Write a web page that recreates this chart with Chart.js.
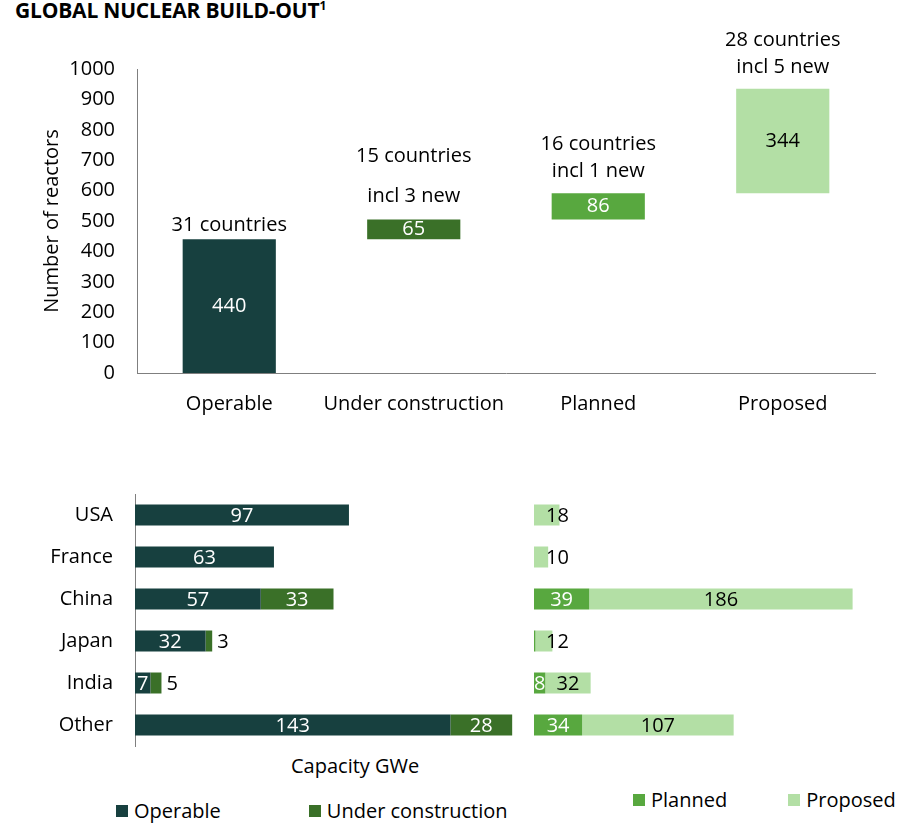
<!DOCTYPE html>
<html>
<head>
<meta charset="utf-8">
<script src="https://cdn.jsdelivr.net/npm/chart.js@4.4.0/dist/chart.umd.min.js"></script>
<style>
  body { margin: 0; background: #fff; font-family: "Open Sans", sans-serif; }
  #page { position: relative; width: 923px; height: 823px; overflow: hidden; }
  canvas { position: absolute; }
  .title { position: absolute; left: 15px; top: -4px; font-weight: bold; font-size: 21px; color: #000; letter-spacing: -0.2px; }
  .title sup { font-size: 12px; }
  .axis-title { position: absolute; font-size: 20px; color: #000; }
  .legend { position: absolute; font-size: 20px; color: #000; display: flex; }
  .legend span.item { display: flex; align-items: center; }
  .legend span.box { display: inline-block; width: 12px; height: 12px; margin-right: 6px; }
</style>
</head>
<body>
<div id="page">
  <div class="title">GLOBAL NUCLEAR BUILD-OUT<sup>1</sup></div>
  <canvas id="reactorChart" style="left:0;top:0" width="923" height="430"></canvas>
  <canvas id="capacityLeft" style="left:0;top:490px" width="525" height="260"></canvas>
  <canvas id="capacityRight" style="left:520px;top:490px" width="403" height="260"></canvas>
  <div class="axis-title" style="left:291px;top:752px">Capacity GWe</div>
  <div class="legend" id="legendLeft" style="left:116px;top:797px"></div>
  <div class="legend" id="legendRight" style="left:633px;top:786px"></div>
</div>
<script>
// top chart data
var stages = ["Operable", "Under construction", "Planned", "Proposed"];
var reactors = [440, 65, 86, 344];
var stageNotes = [
  ["31 countries"],
  ["15 countries", "incl 3 new"],
  ["16 countries", "incl 1 new"],
  ["28 countries", "incl 5 new"],
];
var yTicks = [0, 100, 200, 300, 400, 500, 600, 700, 800, 900, 1000];

// bottom charts data (GWe)
var countries = ["USA", "France", "China", "Japan", "India", "Other"];
var operable = [97, 63, 57, 32, 7, 143];
var underConstruction = [0, 0, 33, 3, 5, 28];
var planned = [0, 0, 39, 1, 8, 34];
var proposed = [18, 10, 186, 12, 32, 107];

var stageColors = ["#17403f", "#3a7028", "#58a83f", "#b3dfa5"];
var labelColors = ["#ffffff", "#ffffff", "#ffffff", "#000000"];
var noteGap = [27, 40, 27, 27];
var noteOffset = [14, 23, 22, 21];

var FONT = "Open Sans";
var axisGrey = "#7f7f7f";

// floating bars: each stage starts where the previous ended
var floating = [];
var running = 0;
for (const v of reactors) {
  floating.push([running, running + v]);
  running += v;
}

const reactorLabels = {
  id: "reactorLabels",
  afterDatasetsDraw(chart) {
    const ctx = chart.ctx;
    const meta = chart.getDatasetMeta(0);
    ctx.save();
    ctx.font = "20px '" + FONT + "'";
    ctx.textAlign = "center";
    ctx.textBaseline = "middle";
    meta.data.forEach((bar, i) => {
      const top = Math.min(bar.y, bar.base);
      const bottom = Math.max(bar.y, bar.base);
      ctx.fillStyle = labelColors[i];
      ctx.fillText(reactors[i], bar.x, (top + bottom) / 2);
      ctx.fillStyle = "#000";
      const lines = stageNotes[i];
      for (let k = 0; k < lines.length; k++) {
        const fromBottom = lines.length - 1 - k;
        ctx.fillText(lines[k], bar.x, top - noteOffset[i] - fromBottom * noteGap[i]);
      }
    });
    ctx.restore();
  },
};

new Chart("reactorChart", {
  type: "bar",
  data: {
    labels: stages,
    datasets: [
      {
        data: floating,
        backgroundColor: stageColors,
        barPercentage: 0.505,
        categoryPercentage: 1,
      },
    ],
  },
  options: {
    responsive: false,
    animation: false,
    layout: { padding: { top: 69, right: 48, left: 0, bottom: 0 } },
    plugins: { legend: { display: false }, tooltip: { enabled: false } },
    scales: {
      x: {
        grid: { display: false, drawTicks: false },
        border: { display: true, color: axisGrey, width: 1 },
        ticks: {
          color: "#000",
          font: { family: FONT, size: 20 },
          padding: 19,
          autoSkip: false,
          maxRotation: 0,
          minRotation: 0,
        },
        afterFit: (scale) => { scale.height = 57; },
      },
      y: {
        min: 0,
        max: 1000,
        grid: { display: false, drawTicks: false },
        border: { display: true, color: axisGrey, width: 1 },
        afterBuildTicks: (scale) => { scale.ticks = yTicks.map((v) => ({ value: v })); },
        ticks: {
          color: "#000",
          font: { family: FONT, size: 20 },
          padding: 22,
          callback: (v) => String(v),
        },
        title: {
          display: true,
          text: "Number of reactors",
          color: "#000",
          font: { family: FONT, size: 20 },
          padding: { top: 40, bottom: 0 },
        },
        afterFit: (scale) => { scale.width = 137; },
      },
    },
  },
  plugins: [reactorLabels],
});

// labels on horizontal stacked bars
const segmentLabels = {
  id: "segmentLabels",
  afterDatasetsDraw(chart) {
    const ctx = chart.ctx;
    ctx.save();
    ctx.font = "20px '" + FONT + "'";
    ctx.textBaseline = "middle";
    chart.data.datasets.forEach((ds, di) => {
      const meta = chart.getDatasetMeta(di);
      meta.data.forEach((bar, i) => {
        const v = ds.data[i];
        if (!v || v < 2) return;
        const left = Math.min(bar.x, bar.base);
        const right = Math.max(bar.x, bar.base);
        const text = String(v);
        const w = ctx.measureText(text).width;
        if (w + 6 <= right - left || ds.overflow === "inside") {
          ctx.textAlign = "center";
          ctx.fillStyle = ds.labelColor;
          ctx.fillText(text, (left + right) / 2, bar.y + 1);
        } else if (ds.overflow === "after") {
          ctx.textAlign = "left";
          ctx.fillStyle = "#000";
          ctx.fillText(text, right + 5, bar.y + 1);
        } else {
          ctx.textAlign = "left";
          ctx.fillStyle = "#000";
          ctx.fillText(text, chart.chartArea.left + 12, bar.y + 1);
        }
      });
    });
    ctx.restore();
  },
};

function capacityChart(id, sets, opts) {
  return new Chart(id, {
    type: "bar",
    data: {
      labels: countries,
      datasets: sets.map((s) => ({
        label: s.label,
        data: s.data,
        backgroundColor: s.color,
        labelColor: s.labelColor,
        overflow: s.overflow,
        barPercentage: 0.5,
        categoryPercentage: 1,
      })),
    },
    options: {
      indexAxis: "y",
      responsive: false,
      animation: false,
      layout: { padding: opts.padding },
      plugins: { legend: { display: false }, tooltip: { enabled: false } },
      scales: {
        x: { stacked: true, min: 0, max: opts.max, display: false },
        y: {
          stacked: true,
          display: opts.showAxis,
          grid: { display: false, drawTicks: false },
          border: { display: true, color: axisGrey, width: 1 },
          ticks: { color: "#000", font: { family: FONT, size: 20 }, padding: 22 },
          afterFit: (scale) => {
            if (!opts.showAxis) return;
            scale.width = 135;
            scale.paddingTop = 0;
            scale.paddingBottom = 0;
          },
        },
      },
    },
    plugins: [segmentLabels],
  });
}

capacityChart(
  "capacityLeft",
  [
    { label: stages[0], data: operable, color: stageColors[0], labelColor: labelColors[0], overflow: "inside" },
    { label: stages[1], data: underConstruction, color: stageColors[1], labelColor: labelColors[1], overflow: "after" },
  ],
  { max: 175, showAxis: true, padding: { top: 4, bottom: 4, left: 0, right: 4 } }
);

capacityChart(
  "capacityRight",
  [
    { label: stages[2], data: planned, color: stageColors[2], labelColor: labelColors[2], overflow: "inside" },
    { label: stages[3], data: proposed, color: stageColors[3], labelColor: labelColors[3], overflow: "end" },
  ],
  { max: 250, showAxis: false, padding: { top: 4, bottom: 4, left: 14, right: 35 } }
);

function buildLegend(elId, idx, gap) {
  const el = document.getElementById(elId);
  idx.forEach((i, n) => {
    const item = document.createElement("span");
    item.className = "item";
    if (n > 0) item.style.marginLeft = gap + "px";
    const box = document.createElement("span");
    box.className = "box";
    box.style.background = stageColors[i];
    item.appendChild(box);
    item.appendChild(document.createTextNode(stages[i]));
    el.appendChild(item);
  });
}
buildLegend("legendLeft", [0, 1], 88);
buildLegend("legendRight", [2, 3], 61);
</script>
</body>
</html>
